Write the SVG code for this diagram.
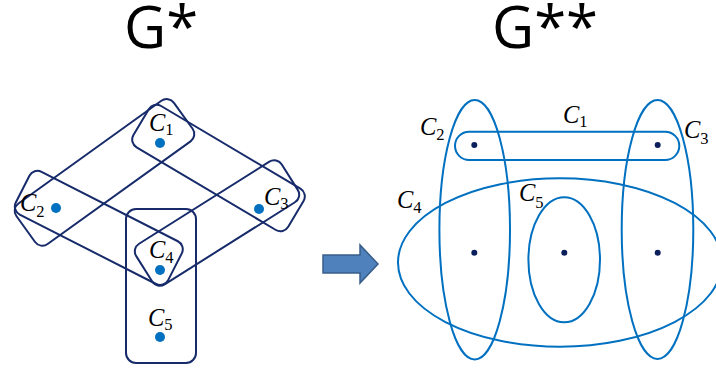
<svg xmlns="http://www.w3.org/2000/svg" width="716" height="368" viewBox="0 0 716 368">
<style>
.title{font-family:"Open Sans","Liberation Sans",sans-serif;font-size:58px;fill:#000}
.lbl{font-family:"Liberation Serif","DejaVu Serif",serif;font-style:italic;font-size:24.5px;fill:#000}
.sub{font-family:"Liberation Serif","DejaVu Serif",serif;font-style:normal;font-size:16.5px;fill:#000}
.he{fill:none;stroke:#172B6B;stroke-width:2}
.dotL{fill:#0070C0}
.he2{fill:none;stroke:#0070C0;stroke-width:2}
.dotR{fill:#0B1F5C}
</style>
<rect width="716" height="368" fill="#fff"/>
<text class="title" x="124" y="48">G*</text>
<text class="title" x="492" y="48">G**</text>

<g id="left-hyperedges">
  <g id="e12"><rect class="he" transform="translate(104.5,172.4) rotate(-35.7)" x="-97" y="-25" width="194" height="50" rx="9"/></g>
  <g id="e13"><rect class="he" transform="translate(218.5,168) rotate(30.7)" x="-90" y="-24" width="180" height="48" rx="9"/></g>
  <g id="e34"><rect class="he" transform="translate(217,223) rotate(-32.2)" x="-86" y="-24" width="172" height="48" rx="9"/></g>
  <g id="e24"><rect class="he" transform="translate(98.8,227.9) rotate(27)" x="-85.5" y="-24" width="171" height="48" rx="9"/></g>
  <g id="e45"><rect class="he" x="126" y="209" width="70" height="154" rx="10"/></g>
</g>

<g id="L-C1"><circle class="dotL" cx="160" cy="143" r="5"/><text class="lbl" x="149" y="131">C<tspan class="sub" dy="4">1</tspan></text></g>
<g id="L-C2"><circle class="dotL" cx="56" cy="208" r="5"/><text class="lbl" x="20" y="211">C<tspan class="sub" dy="6">2</tspan></text></g>
<g id="L-C3"><circle class="dotL" cx="259" cy="209" r="5"/><text class="lbl" x="264" y="205">C<tspan class="sub" dy="4">3</tspan></text></g>
<g id="L-C4"><circle class="dotL" cx="160" cy="270" r="5"/><text class="lbl" x="149" y="258">C<tspan class="sub" dy="5">4</tspan></text></g>
<g id="L-C5"><circle class="dotL" cx="160" cy="337" r="5"/><text class="lbl" x="148" y="326">C<tspan class="sub" dy="4">5</tspan></text></g>

<g id="arrow"><path d="M323,255 H360 V245 L378,264 L360,283 V273 H323 Z" fill="#4F81BD" stroke="#385D8A" stroke-width="1.5"/></g>

<g id="right-hyperedges">
  <g id="R-C2"><ellipse class="he2" cx="474.7" cy="229.7" rx="35.3" ry="129.7"/><text class="lbl" x="420" y="135">C<tspan class="sub" dy="5">2</tspan></text></g>
  <g id="R-C3"><ellipse class="he2" cx="657.5" cy="229.5" rx="35.8" ry="129.5"/><text class="lbl" x="684" y="138">C<tspan class="sub" dy="6">3</tspan></text></g>
  <g id="R-C1"><rect class="he2" x="455" y="131.7" width="224.3" height="28.3" rx="14.15"/><text class="lbl" x="563" y="123">C<tspan class="sub" dy="3.5">1</tspan></text></g>
  <g id="R-C4"><ellipse class="he2" cx="560" cy="262.5" rx="162" ry="84.2"/><text class="lbl" x="397" y="208">C<tspan class="sub" dy="5">4</tspan></text></g>
  <g id="R-C5"><ellipse class="he2" cx="564.2" cy="259.8" rx="35.8" ry="62.5"/><text class="lbl" x="519" y="201">C<tspan class="sub" dy="7">5</tspan></text></g>
</g>
<g id="right-vertices">
  <circle class="dotR" cx="474.3" cy="145" r="3"/>
  <circle class="dotR" cx="657.7" cy="145" r="3"/>
  <circle class="dotR" cx="474.3" cy="252.7" r="3"/>
  <circle class="dotR" cx="564.3" cy="252.7" r="3"/>
  <circle class="dotR" cx="657.7" cy="252.7" r="3"/>
</g>
</svg>
